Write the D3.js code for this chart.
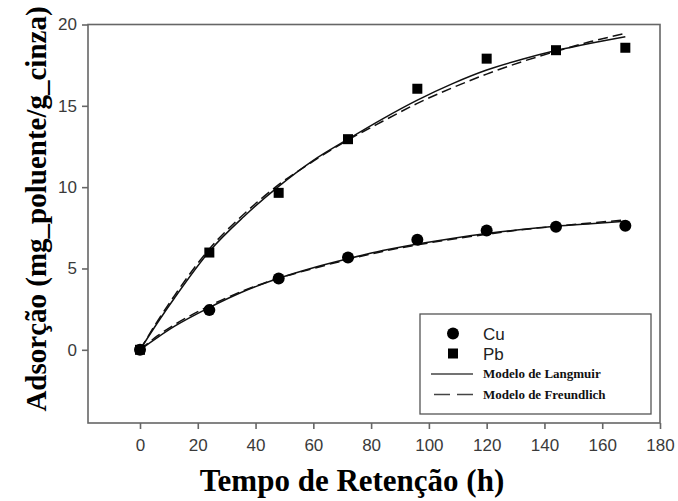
<!DOCTYPE html>
<html>
<head>
<meta charset="utf-8">
<script src="https://cdn.jsdelivr.net/npm/d3@7"></script>
<style>
  html, body { margin: 0; padding: 0; background: #fff; }
  svg { display: block; }
</style>
</head>
<body>
<svg id="chart" width="678" height="501"></svg>
<script>
// Measured adsorption (mg pollutant / g ash) against retention time (h)
const times = [0, 24, 48, 72, 96, 120, 144, 168];
const cuValues = [0, 2.44, 4.38, 5.67, 6.76, 7.33, 7.56, 7.63];
const pbValues = [0, 5.98, 9.65, 12.95, 16.05, 17.9, 18.42, 18.57];

// Fitted model curves, sampled along the time axis
const modelTimes = [0, 6, 12, 24, 36, 48, 60, 72, 84, 96, 108, 120, 132, 144, 156, 168];
const pbLangmuir   = [0, 1.65, 3.2, 6.05, 8.2, 10.05, 11.65, 12.95, 14.2, 15.35, 16.35, 17.2, 17.85, 18.4, 18.85, 19.25];
const pbFreundlich = [0, 1.75, 3.35, 6.2, 8.35, 10.15, 11.6, 12.9, 14.05, 15.15, 16.1, 16.95, 17.7, 18.35, 18.95, 19.45];
const cuLangmuir   = [0, 0.75, 1.45, 2.6, 3.6, 4.4, 5.05, 5.6, 6.1, 6.5, 6.85, 7.15, 7.4, 7.6, 7.75, 7.9];
const cuFreundlich = [0, 0.85, 1.55, 2.7, 3.65, 4.4, 5.0, 5.55, 6.05, 6.45, 6.8, 7.1, 7.38, 7.6, 7.8, 7.98];

// Axis ticks and labels
const xTicks = [0, 20, 40, 60, 80, 100, 120, 140, 160, 180];
const yTicks = [0, 5, 10, 15, 20];
const xTitle = "Tempo de Retenção (h)";
const yTitle = "Adsorção (mg_poluente/g_cinza)";
const legendItems = ["Cu", "Pb", "Modelo de Langmuir", "Modelo de Freundlich"];

const svg = d3.select("#chart");
const frame = { left: 88, right: 660, top: 24.5, bottom: 423 };

const x = d3.scaleLinear().domain([-18, 180]).range([frame.left, frame.right]);
const y = d3.scaleLinear().domain([-4.5, 20]).range([frame.bottom, frame.top]);

const axisColor = "#666";
const sans = "'Liberation Sans', Arial, sans-serif";
const serif = "'Liberation Serif', 'Times New Roman', serif";

// Plot frame
svg.append("rect")
  .attr("x", frame.left).attr("y", frame.top)
  .attr("width", frame.right - frame.left).attr("height", frame.bottom - frame.top)
  .attr("fill", "none").attr("stroke", axisColor).attr("stroke-width", 1.6);

// Axes
const xAxis = svg.append("g")
  .attr("transform", `translate(0,${frame.bottom})`)
  .call(d3.axisBottom(x).tickValues(xTicks).tickSize(6).tickPadding(10).tickFormat(d3.format("d")));
const yAxis = svg.append("g")
  .attr("transform", `translate(${frame.left},0)`)
  .call(d3.axisLeft(y).tickValues(yTicks).tickSize(6).tickPadding(5).tickFormat(d3.format("d")));

[xAxis, yAxis].forEach(g => {
  g.select(".domain").remove();
  g.selectAll(".tick line").attr("stroke", axisColor).attr("stroke-width", 1.6);
  g.selectAll(".tick text")
    .attr("fill", "#3a3a3a")
    .style("font-family", sans)
    .style("font-size", "17px");
});

// Axis titles
svg.append("text")
  .attr("x", 352).attr("y", 491)
  .attr("text-anchor", "middle")
  .style("font-family", serif).style("font-weight", "bold").style("font-size", "31px")
  .attr("fill", "#000")
  .text(xTitle);

svg.append("text")
  .attr("transform", "translate(46,209) rotate(-90)")
  .attr("text-anchor", "middle")
  .style("font-family", serif).style("font-weight", "bold").style("font-size", "29px")
  .attr("fill", "#000")
  .text(yTitle);

// Model curves
const line = d3.line()
  .x(d => x(d[0]))
  .y(d => y(d[1]))
  .curve(d3.curveMonotoneX);

const curves = [
  { values: pbLangmuir, dash: null },
  { values: pbFreundlich, dash: "10,5" },
  { values: cuLangmuir, dash: null },
  { values: cuFreundlich, dash: "10,5" }
];

svg.append("g").selectAll("path")
  .data(curves)
  .join("path")
  .attr("d", c => line(modelTimes.map((t, i) => [t, c.values[i]])))
  .attr("fill", "none")
  .attr("stroke", "#111")
  .attr("stroke-width", 1.5)
  .attr("stroke-dasharray", c => c.dash);

// Measured points
const sq = 10;
svg.append("g").selectAll("rect")
  .data(times.map((t, i) => [t, pbValues[i]]))
  .join("rect")
  .attr("x", d => x(d[0]) - sq / 2)
  .attr("y", d => y(d[1]) - sq / 2)
  .attr("width", sq).attr("height", sq)
  .attr("fill", "#000");

svg.append("g").selectAll("circle")
  .data(times.map((t, i) => [t, cuValues[i]]))
  .join("circle")
  .attr("cx", d => x(d[0]))
  .attr("cy", d => y(d[1]))
  .attr("r", 6)
  .attr("fill", "#000");

// Legend
const legend = svg.append("g");
legend.append("rect")
  .attr("x", 420).attr("y", 314).attr("width", 231).attr("height", 100)
  .attr("fill", "#fff").attr("stroke", "#555").attr("stroke-width", 1.3);

legend.append("circle").attr("cx", 453).attr("cy", 333.5).attr("r", 6).attr("fill", "#000");
legend.append("rect").attr("x", 448).attr("y", 348.5).attr("width", 10).attr("height", 10).attr("fill", "#000");
legend.append("line").attr("x1", 431).attr("x2", 473).attr("y1", 374).attr("y2", 374)
  .attr("stroke", "#444").attr("stroke-width", 1.3);
legend.append("line").attr("x1", 434).attr("x2", 473).attr("y1", 394.5).attr("y2", 394.5)
  .attr("stroke", "#444").attr("stroke-width", 1.3).attr("stroke-dasharray", "16,7");

const legendText = [
  { y: 339.5, font: sans, weight: "normal", size: 17 },
  { y: 359.5, font: sans, weight: "normal", size: 17 },
  { y: 378, font: serif, weight: "bold", size: 13 },
  { y: 399, font: serif, weight: "bold", size: 13 }
];
legend.selectAll("text.item")
  .data(legendItems)
  .join("text")
  .attr("class", "item")
  .attr("x", 483)
  .attr("y", (d, i) => legendText[i].y)
  .style("font-family", (d, i) => legendText[i].font)
  .style("font-weight", (d, i) => legendText[i].weight)
  .style("font-size", (d, i) => legendText[i].size + "px")
  .attr("fill", (d, i) => i < 2 ? "#222" : "#111")
  .text(d => d);
</script>
</body>
</html>
